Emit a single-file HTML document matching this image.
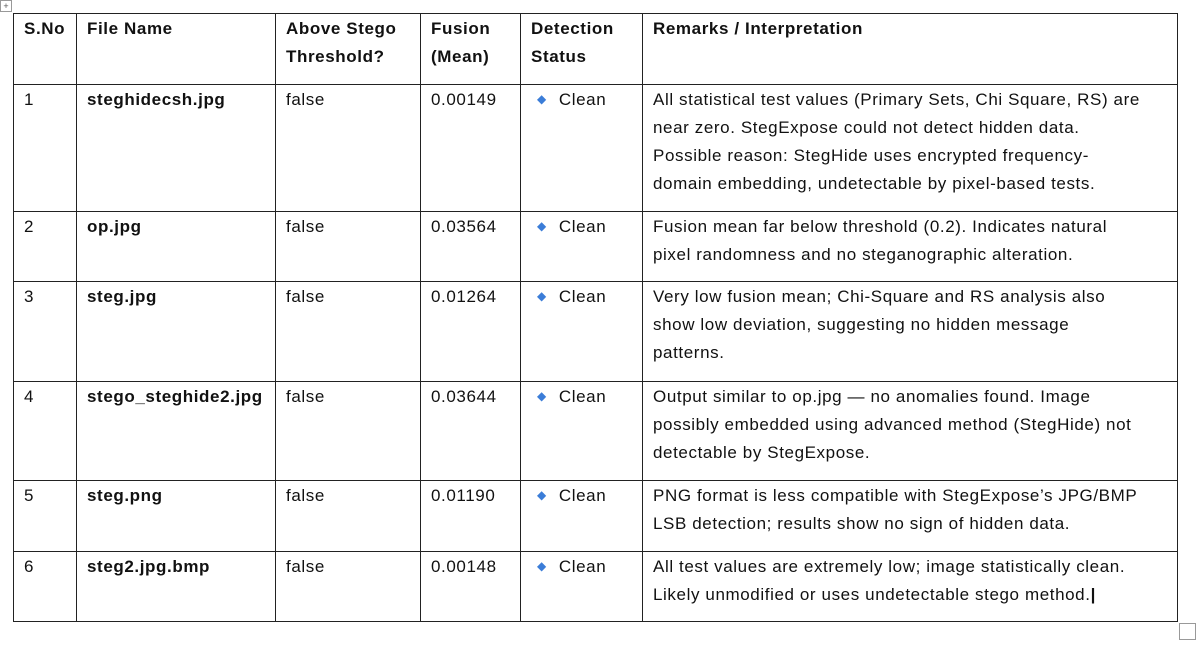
<!DOCTYPE html>
<html><head><meta charset="utf-8"><style>
body{margin:0;background:#fff;width:1196px;height:646px;overflow:hidden;font-family:"Liberation Sans",sans-serif;color:#111;}
table{position:absolute;left:13px;top:13px;border-collapse:collapse;table-layout:fixed;}
td{border:1px solid #222;vertical-align:top;padding:1px 0 0 10px;font-size:17px;letter-spacing:0.6px;line-height:28px;white-space:nowrap;overflow:hidden;}
.h td{font-weight:bold;}
b{font-weight:bold;}
.d{color:#3b7dd8;font-size:12px;margin:0 12px 0 6px;position:relative;top:-2px;}
.sq{position:absolute;left:1179px;top:623px;width:15px;height:15px;border:1px solid #999;}
.mv{position:absolute;left:0;top:0;width:10px;height:10px;border:1px solid #999;font-size:9px;line-height:10px;text-align:center;color:#555;}
</style></head><body>
<div class="mv">+</div>
<table>
<colgroup><col style="width:63px"><col style="width:199px"><col style="width:145px"><col style="width:100px"><col style="width:122px"><col style="width:535px"></colgroup>
<tr class="h" style="height:71px"><td>S.No</td><td>File Name</td><td>Above Stego<br>Threshold?</td><td>Fusion<br>(Mean)</td><td>Detection<br>Status</td><td>Remarks / Interpretation</td></tr>
<tr style="height:127px"><td>1</td><td><b>steghidecsh.jpg</b></td><td>false</td><td>0.00149</td><td><span class="d">◆</span>Clean</td><td>All statistical test values (Primary Sets, Chi Square, RS) are<br>near zero. StegExpose could not detect hidden data.<br>Possible reason: StegHide uses encrypted frequency-<br>domain embedding, undetectable by pixel-based tests.</td></tr>
<tr style="height:70px"><td>2</td><td><b>op.jpg</b></td><td>false</td><td>0.03564</td><td><span class="d">◆</span>Clean</td><td>Fusion mean far below threshold (0.2). Indicates natural<br>pixel randomness and no steganographic alteration.</td></tr>
<tr style="height:100px"><td>3</td><td><b>steg.jpg</b></td><td>false</td><td>0.01264</td><td><span class="d">◆</span>Clean</td><td>Very low fusion mean; Chi-Square and RS analysis also<br>show low deviation, suggesting no hidden message<br>patterns.</td></tr>
<tr style="height:99px"><td>4</td><td><b>stego_steghide2.jpg</b></td><td>false</td><td>0.03644</td><td><span class="d">◆</span>Clean</td><td>Output similar to op.jpg — no anomalies found. Image<br>possibly embedded using advanced method (StegHide) not<br>detectable by StegExpose.</td></tr>
<tr style="height:71px"><td>5</td><td><b>steg.png</b></td><td>false</td><td>0.01190</td><td><span class="d">◆</span>Clean</td><td>PNG format is less compatible with StegExpose’s JPG/BMP<br>LSB detection; results show no sign of hidden data.</td></tr>
<tr style="height:70px"><td>6</td><td><b>steg2.jpg.bmp</b></td><td>false</td><td>0.00148</td><td><span class="d">◆</span>Clean</td><td>All test values are extremely low; image statistically clean.<br>Likely unmodified or uses undetectable stego method.<b>|</b></td></tr>
</table>
<div class="sq"></div>
</body></html>
